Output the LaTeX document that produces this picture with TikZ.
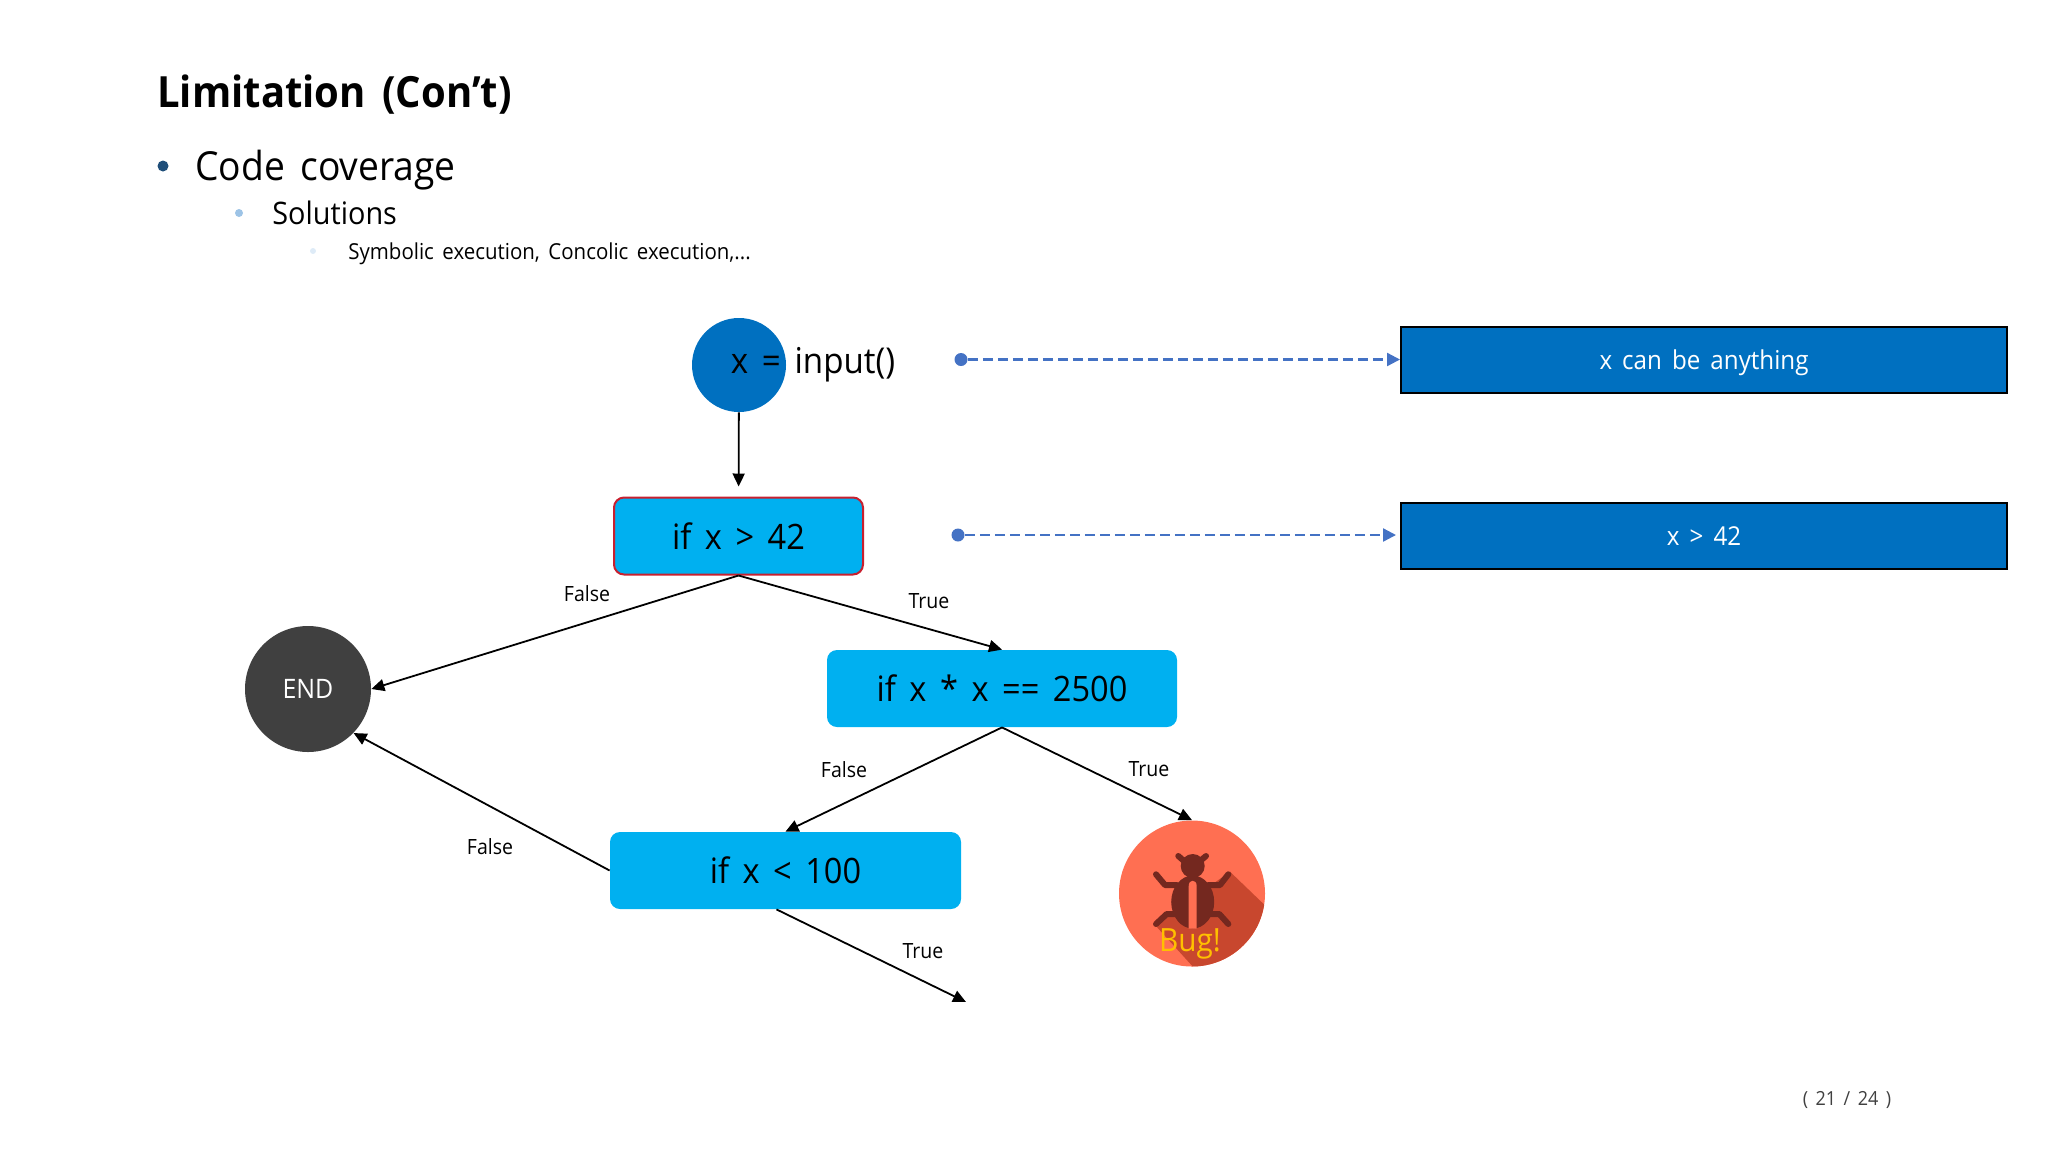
\documentclass[tikz,border=0pt]{standalone}
\usepackage{fontspec}
\setmainfont{Open Sans}[WordSpace=1.6,FakeStretch=0.93]
\usetikzlibrary{arrows.meta}

\definecolor{ifblue}{HTML}{00B0F0}
\definecolor{startblue}{HTML}{0070C0}
\definecolor{dashblue}{HTML}{4472C4}
\definecolor{endgray}{HTML}{404040}
\definecolor{bugred}{HTML}{FF6F52}
\definecolor{bugshade}{HTML}{C8472E}
\definecolor{bugbody}{HTML}{74281F}
\definecolor{bulletdark}{HTML}{1F4E79}
\definecolor{bulletmid}{HTML}{9DC3E6}
\definecolor{bulletpale}{HTML}{DEEBF7}

\tikzset{
  ifbox/.style={fill=ifblue,rounded corners=5pt,inner sep=0pt,font=\fontsize{17.5}{20}\selectfont},
  infobox/.style={fill=startblue,draw=black,line width=1pt,text=white,inner sep=0pt,minimum width=303pt,minimum height=33pt,text height=9.3pt,text depth=0pt,font=\fontsize{13}{15}\selectfont},
  edgelabel/.style={inner sep=0pt,font=\fontsize{10.5}{13}\selectfont},
  flow/.style={-{Triangle[length=6.5pt,width=6pt]},line width=0.9pt},
  dashflow/.style={-{Triangle[length=6.5pt,width=6.5pt]},draw=dashblue,line width=1.15pt,dash pattern={on 5pt off 2.5pt}},
  dotstart/.style={circle,fill=dashblue,inner sep=0pt,minimum size=6.5pt},
  bullet/.style={circle,inner sep=0pt},
  bugleg/.style={draw=bugbody,line width=3pt,line cap=round,line join=round},
}

\begin{document}
\begin{tikzpicture}[x=0.5pt,y=0.5pt,yscale=-1,xscale=1]
\useasboundingbox (0,0) rectangle (2048,1152);

% Heading
\node (title) [anchor=west,inner sep=0pt,font=\fontsize{21.5}{25}\bfseries\selectfont] at (157,94.5) {Limitation (Con’t)};
\node (bulleta) [bullet,fill=bulletdark,minimum size=5.5pt] at (163,166) {};
\node (itema) [anchor=west,inner sep=0pt,font=\fontsize{20}{24}\selectfont] at (195,170) {Code coverage};
\node (bulletb) [bullet,fill=bulletmid,minimum size=4pt] at (239,213) {};
\node (itemb) [anchor=west,inner sep=0pt,font=\fontsize{15.5}{20}\selectfont] at (272,213) {Solutions};
\node (bulletc) [bullet,fill=bulletpale,minimum size=3pt] at (313,251) {};
\node (itemc) [anchor=west,inner sep=0pt,font=\fontsize{11}{15}\selectfont] at (348,254) {Symbolic execution, Concolic execution,...};

% Flow nodes
\node (start) [circle,fill=startblue,minimum size=47pt,inner sep=0pt] at (739,365) {};
\node (input) [inner sep=0pt,font=\fontsize{17.8}{20}\selectfont] at (813,364.5) {x = input()};
\node (ifa) [ifbox,draw={rgb,255:red,200;green,32;blue,47},line width=1pt,minimum width=124.5pt,minimum height=38.5pt] at (738.5,536) {if x > 42};
\node (ifb) [ifbox,minimum width=175pt,minimum height=38.5pt] at (1002,688.5) {if x * x == 2500};
\node (ifc) [ifbox,minimum width=175.5pt,minimum height=38.5pt] at (785.5,870.5) {if x < 100};
\node (end) [circle,fill=endgray,text=white,minimum size=63pt,inner sep=0pt,font=\fontsize{13.4}{15}\selectfont] at (308,689) {END};
\node (bug) [circle,fill=bugred,minimum size=73pt,inner sep=0pt] at (1192,893.5) {};

% Bug picture
\begin{scope}
\clip (1192,893.5) circle (73);
\fill [bugshade] (1230,871.7) -- (1275,915) -- (1275,980) -- (1205,980) -- (1155,925) -- cycle;
\end{scope}
\draw [bugleg] (1178.3,856) -- (1186.7,863.3);
\draw [bugleg] (1206,856) -- (1197.3,863.3);
\draw [bugleg] (1156,874.3) -- (1165,885) -- (1176.7,885);
\draw [bugleg] (1228.3,874.3) -- (1220,885) -- (1208.3,885);
\draw [bugleg] (1156,924) -- (1166.7,914) -- (1176.7,914);
\draw [bugleg] (1228.3,924) -- (1219.3,914) -- (1208.3,914);
\fill [bugbody] (1192.7,866) circle (12);
\fill [bugbody] (1192.7,902) ellipse (21.5 and 26.5);
\fill [bugred] (1188.7,886) .. controls (1188.7,879) and (1196.7,879) .. (1196.7,886) -- (1196.7,928.5) -- (1188.7,928.5) -- cycle;
\node (bugtext) [inner sep=0pt,text={rgb,255:red,255;green,192;blue,0},font=\fontsize{16}{18}\selectfont] at (1190,944) {Bug!};

% Info boxes
\node (infoa) [infobox] at (1704,360) {x can be anything};
\node (infob) [infobox] at (1704,536) {x > 42};
\node (dota) [dotstart] at (961,359.5) {};
\node (dotb) [dotstart] at (958,535) {};
\draw [dashflow] (dota) -- (dota -| infoa.west);
\draw [dashflow,shorten >=2pt] (dotb) -- (dotb -| infob.west);

% Flow connectors
\coordinate (loose) at (966,1002);
\draw [flow,shorten >=5pt] (start) -- (ifa);
\draw [flow] (ifa.south) -- (end.east);
\draw [flow] (ifa.south) -- (ifb.north);
\draw [flow] (ifb.south) -- (ifc.north);
\draw [flow] (ifb.south) -- (bug.north);
\draw [flow] (ifc.west) -- (end.-44);
\draw [flow] ([xshift=-4.5pt]ifc.south) -- (loose);

% Text Node
\node (lfalsea) [edgelabel] at (587,594) {False};
\node (ltruea) [edgelabel] at (929,601) {True};
\node (lfalseb) [edgelabel] at (844,770) {False};
\node (ltrueb) [edgelabel] at (1149,769) {True};
\node (lfalsec) [edgelabel] at (490,847) {False};
\node (ltruec) [edgelabel] at (923,951) {True};
\node (pagenum) [inner sep=0pt,text=black!75,font=\fontsize{9.7}{12}\selectfont] at (1847,1100) {( 21 / 24 )};

\end{tikzpicture}
\end{document}
